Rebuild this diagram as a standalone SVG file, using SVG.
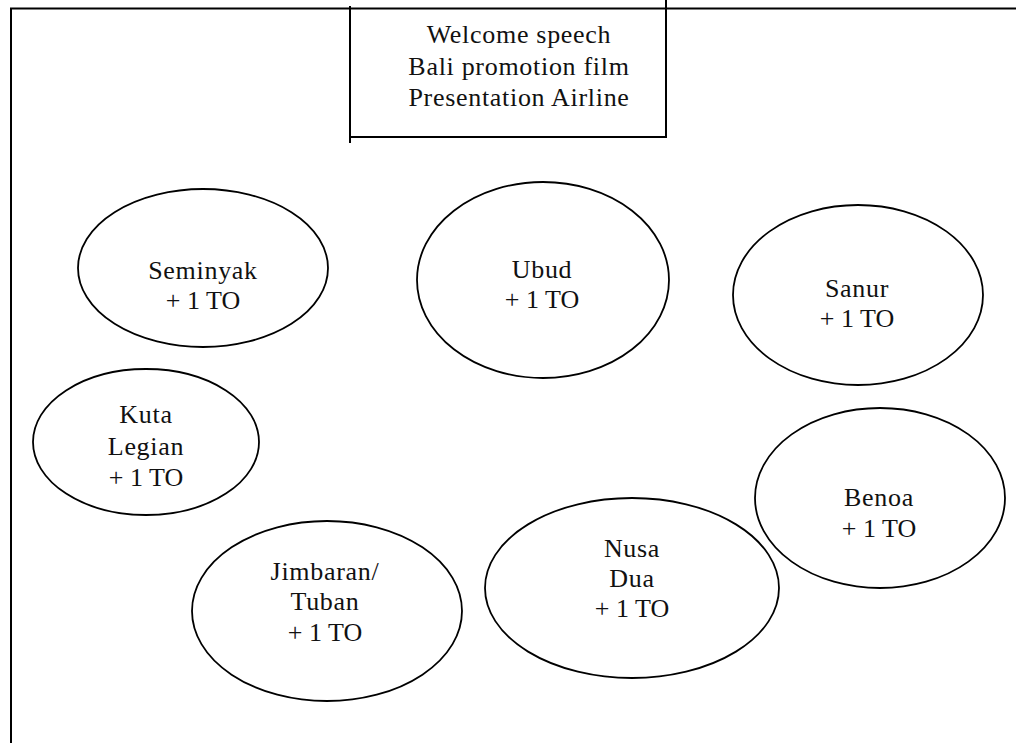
<svg xmlns="http://www.w3.org/2000/svg" width="1016" height="743" viewBox="0 0 1016 743">
<style>
.ln{stroke:#000;stroke-width:2;fill:none}
.el{stroke:#000;stroke-width:1.8;fill:none}
text{font-family:"Liberation Serif","Times New Roman",serif;font-size:26px;fill:#111;text-anchor:middle}
.w{letter-spacing:0.7px}
</style>
<rect width="1016" height="743" fill="#fff"/>
<g id="frame">
<line class="ln" x1="10" y1="8.5" x2="1016" y2="8.5"/>
<line class="ln" x1="11" y1="8" x2="11" y2="743"/>
</g>
<g id="program">
<line class="ln" x1="350" y1="6" x2="350" y2="143"/>
<line class="ln" x1="666" y1="0" x2="666" y2="137"/>
<line class="ln" x1="350" y1="137" x2="667" y2="137"/>
<text class="w" x="519" y="43">Welcome speech</text>
<text class="w" x="519" y="75">Bali promotion film</text>
<text class="w" x="519" y="106">Presentation Airline</text>
</g>
<g id="connectors"></g>
<g id="seminyak">
<ellipse class="el" cx="203" cy="268" rx="125" ry="79"/>
<text class="w" x="203" y="279">Seminyak</text>
<text x="203" y="309">+ 1 TO</text>
</g>
<g id="ubud">
<ellipse class="el" cx="543" cy="280" rx="126" ry="98"/>
<text class="w" x="542" y="278">Ubud</text>
<text x="542" y="308">+ 1 TO</text>
</g>
<g id="sanur">
<ellipse class="el" cx="858" cy="295" rx="125" ry="90"/>
<text class="w" x="857" y="297">Sanur</text>
<text x="857" y="327">+ 1 TO</text>
</g>
<g id="kuta">
<ellipse class="el" cx="146" cy="442" rx="113" ry="73"/>
<text class="w" x="146" y="423">Kuta</text>
<text class="w" x="146" y="455">Legian</text>
<text x="146" y="486">+ 1 TO</text>
</g>
<g id="benoa">
<ellipse class="el" cx="880" cy="498" rx="125" ry="90"/>
<text class="w" x="879" y="506">Benoa</text>
<text x="879" y="537">+ 1 TO</text>
</g>
<g id="nusadua">
<ellipse class="el" cx="632" cy="588" rx="147" ry="90"/>
<text class="w" x="632" y="557">Nusa</text>
<text class="w" x="632" y="587">Dua</text>
<text x="632" y="617">+ 1 TO</text>
</g>
<g id="jimbaran">
<ellipse class="el" cx="327" cy="611" rx="135" ry="90"/>
<text class="w" x="325" y="580">Jimbaran/</text>
<text class="w" x="325" y="610">Tuban</text>
<text x="325" y="641">+ 1 TO</text>
</g>
</svg>
